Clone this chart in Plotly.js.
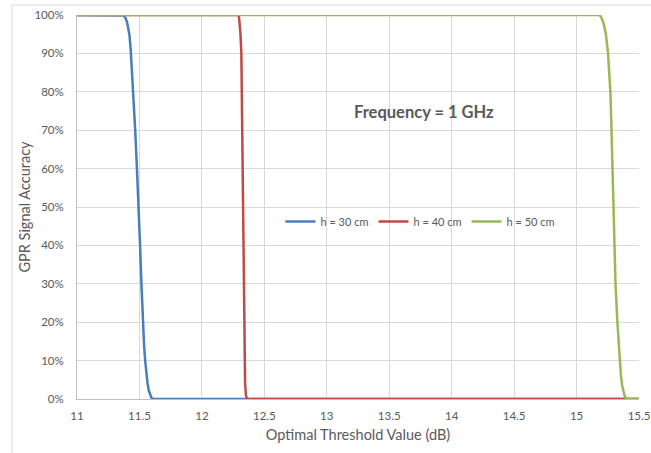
<!DOCTYPE html>
<html>
<head>
<meta charset="utf-8">
<script src="https://cdn.plot.ly/plotly-3.0.1.min.js"></script>
<style>html,body{margin:0;padding:0;background:#fff;}#chart{width:651px;height:453px;}</style>
</head>
<body>
<div id="chart"></div>
<script>
// Series names
const seriesNames = ["h = 30 cm", "h = 40 cm", "h = 50 cm"];

// h = 30 cm (x in dB, y as fraction)
const x30 = [11.0, 11.36, 11.37, 11.38, 11.39, 11.40, 11.41, 11.42, 11.43, 11.44, 11.45, 11.466, 11.48, 11.494, 11.505, 11.516, 11.527, 11.537, 11.546, 11.555, 11.565, 11.575, 11.585, 11.595, 11.605, 11.62, 15.5];
const y30 = [1.0, 1.0, 0.999, 0.996, 0.991, 0.982, 0.968, 0.948, 0.91, 0.86, 0.80, 0.70, 0.60, 0.50, 0.40, 0.30, 0.20, 0.14, 0.10, 0.066, 0.04, 0.022, 0.011, 0.004, 0.001, 0.0, 0.0];

// h = 40 cm
const x40 = [11.0, 12.29, 12.297, 12.303, 12.309, 12.316, 12.322, 12.327, 12.333, 12.340, 12.346, 12.352, 12.357, 12.36, 15.5];
const y40 = [1.0, 1.0, 0.995, 0.98, 0.95, 0.90, 0.70, 0.50, 0.30, 0.10, 0.04, 0.012, 0.002, 0.0, 0.0];

// h = 50 cm
const x50 = [11.0, 15.18, 15.19, 15.20, 15.21, 15.22, 15.235, 15.252, 15.271, 15.28, 15.287, 15.292, 15.30, 15.312, 15.327, 15.346, 15.355, 15.365, 15.375, 15.385, 15.395, 15.405, 15.42, 15.5];
const y50 = [1.0, 1.0, 0.998, 0.993, 0.985, 0.973, 0.95, 0.90, 0.80, 0.70, 0.60, 0.50, 0.40, 0.30, 0.20, 0.10, 0.062, 0.035, 0.018, 0.008, 0.003, 0.001, 0.0, 0.0];

const colors = ["#4a7ebb", "#be4b48", "#98b954"];

const xs = [x30, x40, x50];
const ys = [y30, y40, y50];

const traces = xs.map((x, i) => ({
  x: x, y: ys[i], name: seriesNames[i], type: "scatter", mode: "lines",
  line: {color: colors[i], width: 2.5, shape: "linear"},
  hoverinfo: "skip"
}));

const font = "Lato, 'Open Sans', sans-serif";

const layout = {
  width: 651, height: 453,
  margin: {l: 77, r: 12, t: 15, b: 54, pad: 0},
  paper_bgcolor: "#ffffff", plot_bgcolor: "#ffffff",
  font: {family: font, color: "#595959", size: 11},
  showlegend: true,
  legend: {
    orientation: "h", x: 0.362, y: 0.462, xanchor: "left", yanchor: "middle",
    bgcolor: "rgba(255,255,255,0)", font: {family: font, size: 11, color: "#595959"},
    itemwidth: 30, tracegroupgap: 0
  },
  xaxis: {
    range: [11, 15.5], dtick: 0.5, tick0: 11,
    showgrid: true, gridcolor: "#d9d9d9", gridwidth: 1,
    showline: true, linecolor: "#bfbfbf", linewidth: 1,
    zeroline: false, ticks: "", ticklabelstandoff: 6,
    tickfont: {family: font, size: 11.5, color: "#595959"},
    title: {text: "Optimal Threshold Value (dB)", font: {family: font, size: 14.5, color: "#595959"}, standoff: 9}
  },
  yaxis: {
    range: [0, 1], dtick: 0.1, tickformat: ".0%",
    showgrid: true, gridcolor: "#d9d9d9", gridwidth: 1,
    showline: true, linecolor: "#bfbfbf", linewidth: 1,
    zeroline: false, ticks: "", ticklabelstandoff: 10,
    tickfont: {family: font, size: 11.5, color: "#595959"},
    title: {text: "GPR Signal Accuracy", font: {family: font, size: 14.5, color: "#595959"}, standoff: 0}
  },
  annotations: [{
    xref: "paper", yref: "paper", x: 0.617, y: 0.748, xanchor: "center", yanchor: "middle",
    text: "<b>Frequency = 1 GHz</b>", showarrow: false,
    font: {family: font, size: 16.5, color: "#595959"}
  }],
  shapes: [{
    type: "rect", xref: "paper", yref: "paper",
    x0: -0.1157, x1: 1.2, y0: -0.3, y1: 1.026,
    line: {color: "#d9d9d9", width: 1}, fillcolor: "rgba(0,0,0,0)", layer: "below"
  }]
};

Plotly.newPlot("chart", traces, layout, {displayModeBar: false, staticPlot: true});
</script>
</body>
</html>
